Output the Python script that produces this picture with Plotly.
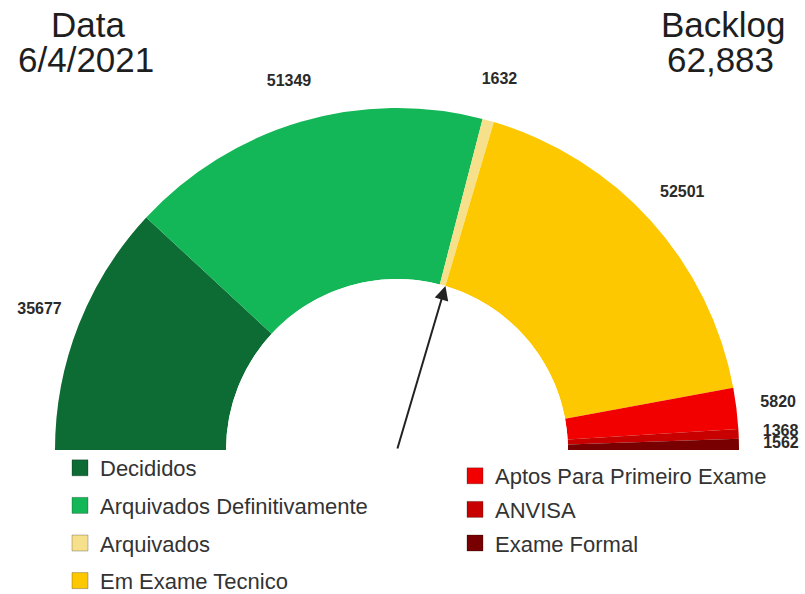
import plotly.graph_objects as go
import numpy as np

categories = ["Decididos", "Arquivados Definitivamente", "Arquivados", "Em Exame Tecnico",
              "Aptos Para Primeiro Exame", "ANVISA", "Exame Formal"]
values = [35677, 51349, 1632, 52501, 5820, 1368, 1562]
colors = ["#0d6b34", "#14b757", "#f6e08c", "#fec800", "#f20000", "#c80000", "#780000"]
legend_col = ["legend", "legend", "legend", "legend", "legend2", "legend2", "legend2"]
date_text = "6/4/2021"
backlog_text = "62,883"
arrow_index = 3  # arrow points at start of "Em Exame Tecnico"

W, H = 805, 594
CX, CY = 397, 450          # gauge centre (px)
R_OUT, R_IN = 342, 171     # ring radii (px)
R_LAB = 384                # label radius (px)
RP = 392                   # polar radius (px) – room for labels
HOLE = R_IN / RP
# radial axis range [0, M] so that r=1 lands on R_OUT
M = (1 - HOLE) / (R_OUT / RP - HOLE)
r_lab = M * (R_LAB / RP - HOLE) / (1 - HOLE)

dx = [(CX - RP) / W, (CX + RP) / W]
dy = [(H - CY) / H, (H - CY + RP) / H]

vals = np.array(values, dtype=float)
total = vals.sum()
width = vals / total * 180.0
cum = np.cumsum(width)
mid = cum - width / 2

fig = go.Figure()
for i, c in enumerate(categories):
    fig.add_trace(go.Barpolar(
        r=[1], theta=[mid[i]], width=[width[i]], name=c,
        marker=dict(color=colors[i], line=dict(width=0)),
        showlegend=False, hoverinfo="name+text", text=[str(values[i])],
    ))

# value labels
fig.add_trace(go.Scatterpolar(
    r=[r_lab] * len(values), theta=list(mid), mode="text",
    text=[str(v) for v in values], textposition="middle center",
    textfont=dict(family="Liberation Sans, Arial", size=16, color="#2a2a2a", weight="bold"),
    cliponaxis=False, showlegend=False, hoverinfo="skip",
))

# legend entries
for i, c in enumerate(categories):
    fig.add_trace(go.Scatterpolar(
        r=[None], theta=[None], mode="markers", name=c,
        marker=dict(symbol="square", size=16, color=colors[i],
                    line=dict(color="rgba(0,0,0,0.25)", width=1)),
        legend=legend_col[i], legendgroup=c, showlegend=True,
    ))

# arrow
ang_deg = 180 - cum[arrow_index - 1]
phi = np.deg2rad(ang_deg)
hx = CX + R_IN * np.cos(phi)
hy = CY - R_IN * np.sin(phi)
fig.add_annotation(
    x=hx / W, y=1 - hy / H, xref="paper", yref="paper",
    ax=CX - hx, ay=CY - hy, axref="pixel", ayref="pixel",
    showarrow=True, arrowhead=2, arrowsize=1.4, arrowwidth=2, arrowcolor="#222",
    text="",
)

tf = dict(family="Liberation Sans, Arial", size=35, color="#1e1e1e")
for txt, x, y in [("Data", 88, 25), (date_text, 86, 60), ("Backlog", 723, 25), (backlog_text, 720, 60)]:
    fig.add_annotation(x=x / W, y=1 - y / H, xref="paper", yref="paper", text=txt,
                       showarrow=False, font=tf, xanchor="center", yanchor="middle")

lf = dict(family="Liberation Sans, Arial", size=22, color="#333333")
fig.update_layout(
    width=W, height=H,
    margin=dict(l=0, r=0, t=0, b=0, autoexpand=False),
    paper_bgcolor="white", plot_bgcolor="white",
    polar=dict(
        domain=dict(x=dx, y=dy),
        sector=[0, 180], hole=HOLE, bgcolor="rgba(0,0,0,0)",
        radialaxis=dict(visible=False, range=[0, M]),
        angularaxis=dict(visible=False, rotation=180, direction="clockwise"),
    ),
    legend=dict(x=60 / W, y=1 - 447 / H, xanchor="left", yanchor="top",
                font=lf, tracegroupgap=6, bgcolor="rgba(0,0,0,0)", itemsizing="trace"),
    legend2=dict(x=455 / W, y=1 - 455 / H, xanchor="left", yanchor="top",
                 font=lf, tracegroupgap=2, bgcolor="rgba(0,0,0,0)", itemsizing="trace"),
    bargap=0,
)

fig.write_html("out.html")
